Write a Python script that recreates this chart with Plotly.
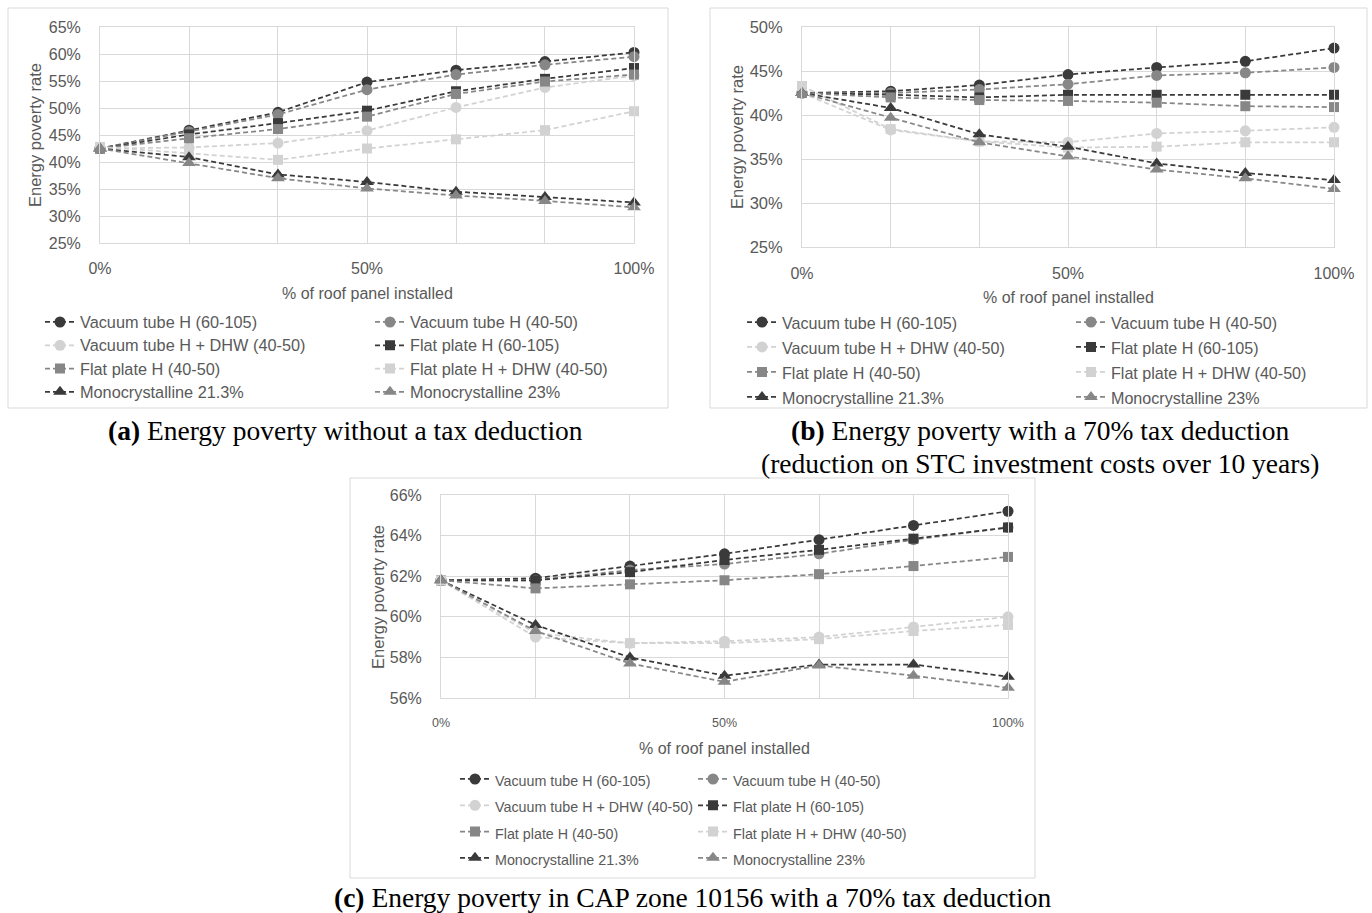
import plotly.graph_objects as go

# ---------------------------------------------------------------- data
roof_share = [0, 16.67, 33.33, 50, 66.67, 83.33, 100]          # % of roof covered
x_tick_text = ["0%", "", "", "50%", "", "", "100%"]

series_names = [
    "Vacuum tube H (60-105)",
    "Vacuum tube H (40-50)",
    "Vacuum tube H + DHW (40-50)",
    "Flat plate H (60-105)",
    "Flat plate H (40-50)",
    "Flat plate H + DHW (40-50)",
    "Monocrystalline 21.3%",
    "Monocrystalline 23%",
]

# (a) no tax deduction
vt_60_105_a = [42.5, 45.9, 49.2, 54.8, 57.0, 58.6, 60.3]
vt_40_50_a = [42.5, 45.6, 48.8, 53.4, 56.2, 58.0, 59.5]
vt_dhw_a = [42.5, 42.7, 43.5, 45.8, 50.1, 53.8, 56.0]
fp_60_105_a = [42.5, 45.1, 47.2, 49.5, 53.1, 55.4, 57.4]
fp_40_50_a = [42.5, 44.4, 46.1, 48.4, 52.6, 54.9, 56.2]
fp_dhw_a = [42.8, 41.6, 40.4, 42.5, 44.2, 45.9, 49.4]
mono_213_a = [42.5, 40.9, 37.7, 36.3, 34.5, 33.5, 32.5]
mono_23_a = [42.5, 39.8, 37.0, 35.1, 33.8, 32.8, 31.6]

# (b) 70% tax deduction
vt_60_105_b = [42.5, 42.7, 43.4, 44.6, 45.4, 46.1, 47.6]
vt_40_50_b = [42.5, 42.5, 42.9, 43.5, 44.5, 44.8, 45.4]
vt_dhw_b = [42.5, 38.3, 37.0, 36.9, 37.9, 38.2, 38.6]
fp_60_105_b = [42.5, 42.3, 42.0, 42.3, 42.3, 42.3, 42.3]
fp_40_50_b = [42.5, 42.0, 41.7, 41.6, 41.4, 41.0, 40.9]
fp_dhw_b = [43.3, 38.4, 37.0, 36.3, 36.4, 36.9, 36.9]
mono_213_b = [42.5, 40.8, 37.8, 36.4, 34.5, 33.4, 32.6]
mono_23_b = [42.5, 39.7, 36.9, 35.3, 33.8, 32.8, 31.6]

# (c) CAP zone 10156, 70% tax deduction
vt_60_105_c = [61.8, 61.9, 62.5, 63.1, 63.8, 64.5, 65.2]
vt_40_50_c = [61.8, 61.8, 62.3, 62.6, 63.1, 63.8, 64.4]
vt_dhw_c = [61.8, 59.0, 58.7, 58.8, 59.0, 59.5, 60.0]
fp_60_105_c = [61.8, 61.8, 62.2, 62.8, 63.3, 63.85, 64.4]
fp_40_50_c = [61.8, 61.4, 61.6, 61.8, 62.1, 62.5, 62.95]
fp_dhw_c = [61.8, 59.2, 58.7, 58.7, 58.9, 59.3, 59.6]
mono_213_c = [61.8, 59.6, 58.0, 57.1, 57.65, 57.65, 57.05]
mono_23_c = [61.8, 59.3, 57.7, 56.8, 57.6, 57.1, 56.5]

panel_a = [vt_60_105_a, vt_40_50_a, vt_dhw_a, fp_60_105_a, fp_40_50_a, fp_dhw_a, mono_213_a, mono_23_a]
panel_b = [vt_60_105_b, vt_40_50_b, vt_dhw_b, fp_60_105_b, fp_40_50_b, fp_dhw_b, mono_213_b, mono_23_b]
panel_c = [vt_60_105_c, vt_40_50_c, vt_dhw_c, fp_60_105_c, fp_40_50_c, fp_dhw_c, mono_213_c, mono_23_c]

# ---------------------------------------------------------------- styling
W, H = 1372, 913
SANS = "Liberation Sans, Arial, sans-serif"
SERIF = "Liberation Serif, Times New Roman, serif"
TEXT_GREY = "#595959"
GRID = "#d9d9d9"

DARK, MID, LIGHT = "#3a3a3a", "#878787", "#d2d2d2"
series_style = [
    (DARK, "circle", 11),
    (MID, "circle", 11),
    (LIGHT, "circle", 11),
    (DARK, "square", 10),
    (MID, "square", 10),
    (LIGHT, "square", 10),
    (DARK, "triangle-up", 12),
    (MID, "triangle-up", 12),
]


def fx(px):
    return px / W


def fy(py):
    return 1 - py / H


# plot-area boxes (pixels): left, right, top, bottom
panels = [
    dict(data=panel_a, box=(100, 634, 27, 243), yr=(25, 65), dtick=5, xfs=16, yfs=16,
         legends=("legend", "legend2"), leg_x=(40, 370), leg_row=322, leg_fs=15.6, txt_fs=16.3,
         ytitle=(35, 135), xtitle=(367, 293), xstand=11, ystand=15),
    dict(data=panel_b, box=(802, 1334, 27, 247), yr=(25, 50), dtick=5, xfs=16, yfs=16.5,
         legends=("legend3", "legend4"), leg_x=(742, 1071), leg_row=322, leg_fs=16.9, txt_fs=16.1,
         ytitle=(737, 137), xtitle=(1068, 297), xstand=12, ystand=15),
    dict(data=panel_c, box=(441, 1008, 495, 698), yr=(56, 66), dtick=2, xfs=12.5, yfs=16,
         legends=("legend5", "legend6"), leg_x=(455, 693), leg_row=779, leg_fs=17.9, txt_fs=14.3,
         ytitle=(378, 597), xtitle=(724, 748), xstand=13, ystand=15),
]

fig = go.Figure()
layout = dict(
    width=W, height=H, margin=dict(l=0, r=0, t=0, b=0, autoexpand=False),
    paper_bgcolor="white", plot_bgcolor="white",
    showlegend=True, hovermode=False,
)
annotations = []
shapes = []

for p_i, p in enumerate(panels):
    n = "" if p_i == 0 else str(p_i + 1)
    xa, ya = "xaxis" + n, "yaxis" + n
    xr, yr_ref = "x" + n, "y" + n
    l, r, t, b = p["box"]
    layout[xa] = dict(
        domain=[fx(l), fx(r)], range=[0, 100], anchor=yr_ref,
        tickvals=roof_share, ticktext=x_tick_text,
        showgrid=True, gridcolor=GRID, gridwidth=1,
        showline=True, linecolor=GRID, mirror=True, zeroline=False,
        ticks="", ticklabelstandoff=p["xstand"],
        tickfont=dict(family=SANS, size=p["xfs"], color=TEXT_GREY),
        fixedrange=True,
    )
    layout[ya] = dict(
        domain=[fy(b), fy(t)], range=list(p["yr"]), anchor=xr, dtick=p["dtick"],
        tick0=p["yr"][0], ticksuffix="%",
        showgrid=True, gridcolor=GRID, gridwidth=1,
        showline=True, linecolor=GRID, mirror=True, zeroline=False,
        ticks="", ticklabelstandoff=p["ystand"],
        tickfont=dict(family=SANS, size=p["yfs"], color=TEXT_GREY),
        fixedrange=True,
    )

    for s_i, (name, vals) in enumerate(zip(series_names, p["data"])):
        color, symbol, size = series_style[s_i]
        fig.add_trace(go.Scatter(
            x=roof_share, y=vals, xaxis=xr, yaxis=yr_ref,
            mode="lines+markers",
            name='<span style="font-size:%spx">%s</span>' % (p["txt_fs"], name),
            legend=p["legends"][s_i % 2],
            line=dict(color=color, width=1.75, dash="5px,3px"),
            marker=dict(color=color, symbol=symbol, size=size, line=dict(width=0)),
            cliponaxis=False,
        ))

    # two-column legend, one vertical legend per column
    h_item = p["leg_fs"] * 1.3 + 3
    top = p["leg_row"] - 5 - h_item / 2
    for leg_name, lx in zip(p["legends"], p["leg_x"]):
        layout[leg_name] = dict(
            x=fx(lx), y=fy(top), xanchor="left", yanchor="top",
            orientation="v", bgcolor="rgba(0,0,0,0)", borderwidth=0,
            font=dict(family=SANS, size=p["leg_fs"], color=TEXT_GREY),
            itemwidth=30, traceorder="normal", tracegroupgap=0,
            itemclick=False, itemdoubleclick=False,
        )

    # axis titles
    annotations.append(dict(
        x=fx(p["ytitle"][0]), y=fy(p["ytitle"][1]), xref="paper", yref="paper",
        text="Energy poverty rate", textangle=-90, showarrow=False,
        xanchor="center", yanchor="middle",
        font=dict(family=SANS, size=16.5, color=TEXT_GREY),
    ))
    annotations.append(dict(
        x=fx(p["xtitle"][0]), y=fy(p["xtitle"][1]), xref="paper", yref="paper",
        text="% of roof panel installed", showarrow=False,
        xanchor="center", yanchor="middle",
        font=dict(family=SANS, size=16, color=TEXT_GREY),
    ))

# chart frames around each panel
for x0, x1, y0, y1 in [(8, 668, 8, 408), (710, 1367, 8, 408), (350, 1035, 478, 878)]:
    shapes.append(dict(
        type="rect", xref="paper", yref="paper",
        x0=fx(x0), x1=fx(x1), y0=fy(y1), y1=fy(y0),
        line=dict(color=GRID, width=1), fillcolor="rgba(0,0,0,0)", layer="below",
    ))

# captions
captions = [
    ("<b>(a)</b> Energy poverty without a tax deduction", 345, 430),
    ("<b>(b)</b> Energy poverty with a 70% tax deduction", 1040, 430),
    ("(reduction on STC investment costs over 10 years)", 1040, 463),
    ("<b>(c)</b> Energy poverty in CAP zone 10156 with a 70% tax deduction", 693, 897),
]
for text, cx, cy in captions:
    annotations.append(dict(
        x=fx(cx), y=fy(cy), xref="paper", yref="paper", text=text, showarrow=False,
        xanchor="center", yanchor="middle",
        font=dict(family=SERIF, size=27.5, color="black"),
    ))

layout["annotations"] = annotations
layout["shapes"] = shapes
fig.update_layout(**layout)
fig.write_html("out.html")
